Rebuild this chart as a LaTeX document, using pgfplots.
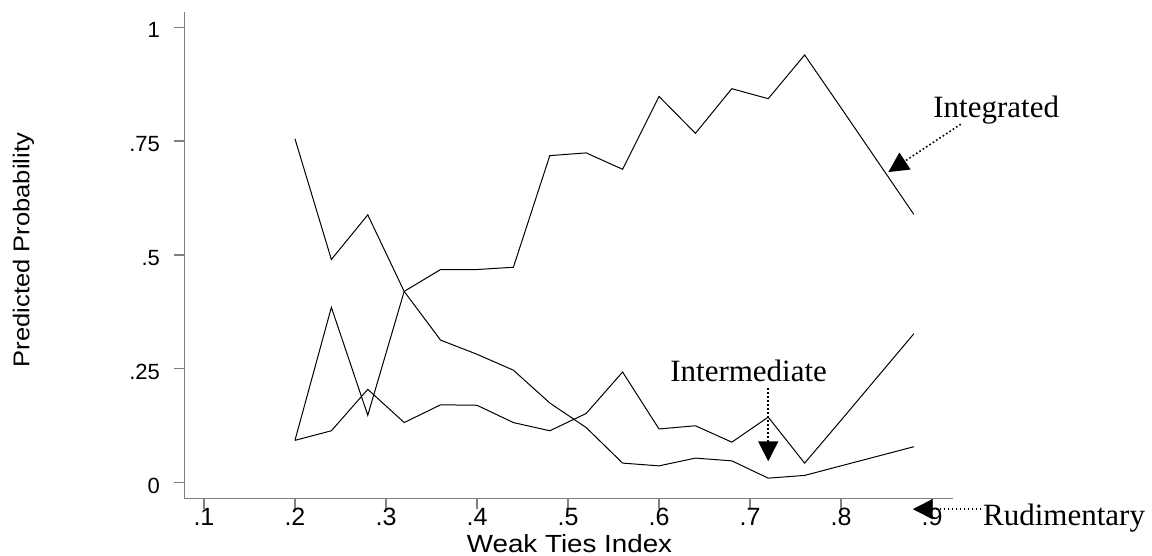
\documentclass[border=0pt]{standalone}
\usepackage{fontspec}
\setmainfont{Liberation Sans}
\newfontfamily\serifann{Liberation Serif}
\newfontfamily\widesans[FakeStretch=1.12]{Liberation Sans}
\usepackage{pgfplots}
\pgfplotsset{compat=1.18}
\usetikzlibrary{arrows.meta}

\pgfplotstableread{
x     rud    integ  inter
0.20  0.755  0.093  0.093
0.24  0.490  0.385  0.114
0.28  0.588  0.148  0.205
0.32  0.420  0.420  0.132
0.36  0.313  0.468  0.171
0.40  0.282  0.468  0.170
0.44  0.247  0.473  0.132
0.48  0.175  0.718  0.114
0.52  0.121  0.724  0.152
0.56  0.043  0.688  0.243
0.60  0.037  0.848  0.118
0.64  0.054  0.767  0.125
0.68  0.048  0.865  0.089
0.72  0.010  0.843  0.144
0.76  0.016  0.939  0.043
0.80  0.037  0.823  0.137
0.84  0.058  0.706  0.232
0.88  0.079  0.589  0.327
}\datatable

\begin{document}
\begin{tikzpicture}
\useasboundingbox (-92.15pt,-28.65pt) rectangle (483.85pt,249.35pt);
\begin{axis}[
  at={(0pt,0pt)}, anchor=south west,
  scale only axis,
  width=384.2pt, height=243.5pt,
  xmin=0.0784, xmax=0.9227,
  ymin=-0.0351, ymax=1.034,
  axis x line*=bottom, axis y line*=left,
  axis line style={-, draw=gray, line width=0.75pt},
  tick style={draw=gray, line width=0.6pt},
  tick align=outside,
  major tick length=5pt,
  xtick={0.1,0.2,0.3,0.4,0.5,0.6,0.7,0.8,0.9},
  xticklabels={.1,.2,.3,.4,.5,.6,.7,.8,.9},
  ytick={0,0.25,0.5,0.75,1},
  yticklabels={0,.25,.5,.75,1},
  xticklabel style={font=\fontsize{12.5}{14}\selectfont, anchor=north, inner sep=0pt, yshift=0.5pt},
  yticklabel style={font=\fontsize{11}{13}\selectfont, anchor=east, inner sep=0pt, yshift=-1.5pt, xshift=-7pt},
  clip=false,
]
\addplot[black, line width=0.5pt] table[x=x, y=rud] {\datatable};
\addplot[black, line width=0.5pt] table[x=x, y=integ] {\datatable};
\addplot[black, line width=0.5pt] table[x=x, y=inter] {\datatable};

\node[anchor=base west, inner sep=0pt, font=\serifann\fontsize{15.5}{17}\selectfont] at (axis cs:0.901,0.802) {Integrated};
\node[anchor=base west, inner sep=0pt, font=\serifann\fontsize{15.5}{17}\selectfont] at (axis cs:0.612,0.222) {Intermediate};
\node[anchor=base west, inner sep=0pt, font=\serifann\fontsize{15.5}{17}\selectfont] at (axis cs:0.9557,-0.0929) {Rudimentary};

\draw[black, line width=0.8pt, dash pattern=on 0.8pt off 1.2pt, -{Triangle[length=10pt,width=10pt]}] (axis cs:0.9316,0.787) -- (axis cs:0.852,0.682);
\draw[black, line width=0.8pt, dash pattern=on 0.8pt off 1.2pt, -{Triangle[length=10pt,width=10pt]}] (axis cs:0.72,0.207) -- (axis cs:0.72,0.047);
\draw[black, line width=0.8pt, dash pattern=on 0.8pt off 1.2pt, -{Triangle[length=10pt,width=10pt]}] (axis cs:0.954,-0.058) -- (axis cs:0.8788,-0.058);
\end{axis}
\node[anchor=base, inner sep=0pt, font=\widesans\fontsize{12.4}{14}\selectfont] at (192.6pt,-27pt) {Weak Ties Index};
\node[anchor=base, inner sep=0pt, rotate=90, font=\widesans\fontsize{11.4}{13}\selectfont] at (-77.5pt,124.35pt) {Predicted Probability};
\end{tikzpicture}
\end{document}
